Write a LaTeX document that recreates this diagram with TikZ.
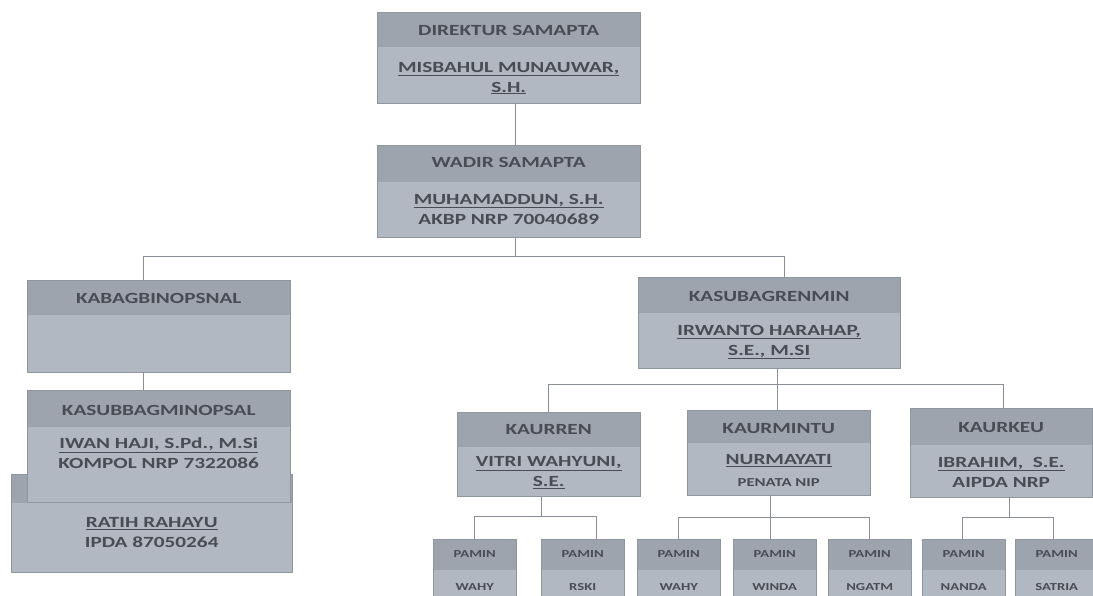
\documentclass[tikz,border=0pt]{standalone}
\usepackage{fontspec}
\setmainfont[FakeStretch=1.37]{Carlito}
\usepackage{xcolor}
\usepackage{tikz}
\usetikzlibrary{positioning, calc}
\definecolor{boxhead}{HTML}{9DA4AE}
\definecolor{boxbody}{HTML}{B2B8C1}
\definecolor{boxedge}{HTML}{8F969F}
\definecolor{inkgray}{HTML}{474C55}
\definecolor{linkgray}{HTML}{8A8F96}

\tikzset{
  orgbox/.style={draw=boxedge, fill=boxbody, inner sep=0pt, anchor=north west,
    path picture={\fill[boxhead] (path picture bounding box.north west)
      rectangle ([yshift=-#1]path picture bounding box.north east);}},
  titletext/.style={font=\bfseries\fontsize{15.5}{20}\selectfont, text=inkgray, inner sep=0pt},
  nametext/.style={titletext, align=center},
  smalltext/.style={font=\bfseries\fontsize{10.7}{13}\selectfont, text=inkgray, inner sep=0pt},
  link/.style={draw=linkgray, line width=1.3pt}
}

\begin{document}
\begin{tikzpicture}[x=1pt, y=-1pt]
\clip (0,0) rectangle (1093,595);

% top of the chart
\node[orgbox=35, minimum width=263, minimum height=91] (dir) at (377,12) {};
\node[titletext] (dirT) at ([yshift=-18]dir.north) {DIREKTUR SAMAPTA};
\node[nametext] (dirN) at ([yshift=-66]dir.north) {\underline{MISBAHUL MUNAUWAR,}\\\underline{S.H.}};

\node[orgbox=37, minimum width=263, minimum height=92] (wadir) at (377,145) {};
\node[titletext] (wadirT) at ([yshift=-17.5]wadir.north) {WADIR SAMAPTA};
\node[nametext] (wadirN) at ([yshift=-64]wadir.north) {\underline{MUHAMADDUN, S.H.}\\AKBP NRP 70040689};

% left branch
\node[orgbox=35, minimum width=263, minimum height=92] (kabag) at (27,280) {};
\node[titletext] (kabagT) at ([yshift=-18]kabag.north) {KABAGBINOPSNAL};

\node[orgbox=29, minimum width=281, minimum height=98] (ratih) at (11,474) {};
\node[nametext] (ratihN) at ([yshift=-59]ratih.north) {\underline{RATIH RAHAYU}\\IPDA 87050264};

\node[orgbox=37, minimum width=263, minimum height=112] (kasubbag) at (27,390) {};
\node[titletext] (kasubbagT) at ([yshift=-20]kasubbag.north) {KASUBBAGMINOPSAL};
\node[nametext] (kasubbagN) at ([yshift=-63]kasubbag.north) {\underline{IWAN HAJI, S.Pd., M.Si}\\KOMPOL NRP 7322086};

% right branch
\node[orgbox=36, minimum width=262, minimum height=91] (renmin) at (638,277) {};
\node[titletext] (renminT) at ([yshift=-19]renmin.north) {KASUBAGRENMIN};
\node[nametext] (renminN) at ([yshift=-65]renmin.north) {\underline{IRWANTO HARAHAP,}\\\underline{S.E., M.SI}};

\node[orgbox=35, minimum width=183, minimum height=84] (kaurren) at (457,412) {};
\node[titletext] (kaurrenT) at ([yshift=-18]kaurren.north) {KAURREN};
\node[nametext] (kaurrenN) at ([yshift=-60.5]kaurren.north) {\underline{VITRI WAHYUNI,}\\\underline{S.E.}};

\node[orgbox=33, minimum width=183, minimum height=85] (kaurmintu) at (687,410) {};
\node[titletext] (kaurmintuT) at ([yshift=-19]kaurmintu.north) {KAURMINTU};
\node[nametext] (kaurmintuN) at ([yshift=-51]kaurmintu.north) {\underline{NURMAYATI}};
\node[smalltext, font=\bfseries\fontsize{12.2}{14}\selectfont] (kaurmintuP) at ([yshift=-72.5]kaurmintu.north) {PENATA NIP};

\node[orgbox=37, minimum width=182, minimum height=89] (kaurkeu) at (910,408) {};
\node[titletext] (kaurkeuT) at ([yshift=-19.5]kaurkeu.north) {KAURKEU};
\node[nametext] (kaurkeuN) at ([yshift=-64]kaurkeu.north) {\underline{IBRAHIM,\ \ S.E.}\\AIPDA NRP};

% pamin row
\foreach \n/\x/\who in {
    pa1/433/WAHY, pa2/541/RSKI,
    pb1/637/WAHY, pb2/733/WINDA, pb3/828/NGATM,
    pc1/922/NANDA, pc2/1015/SATRIA} {
  \node[orgbox=31, minimum width=83, minimum height=60] (\n) at (\x,539) {};
  \node[smalltext] (\n T) at ([yshift=-15.5]\n.north) {PAMIN};
  \node[smalltext] (\n N) at ([yshift=-48]\n.north) {\who};
}

% connectors
\draw[link] ([xshift=6.5]dir.south) -- ([xshift=6.5]wadir.north);
\draw[link] ([xshift=6.5]wadir.south) -- ++(0,19) -| ([xshift=-15.5]kabag.north);
\draw[link] ([xshift=6.5]wadir.south) -- ++(0,19) -| ([xshift=15]renmin.north);
\draw[link] ([xshift=-15.5]kabag.south) -- ([xshift=-15.5]kasubbag.north);

\draw[link] ([xshift=8]renmin.south) -- ++(0,16) -| (kaurren.north);
\draw[link] ([xshift=8]renmin.south) -- ([xshift=-1.5]kaurmintu.north);
\draw[link] ([xshift=8]renmin.south) -- ++(0,16) -| ([xshift=2]kaurkeu.north);

\draw[link] ([xshift=-7.5]kaurren.south) -- ++(0,20) -| (pa1.north);
\draw[link] ([xshift=-7.5]kaurren.south) -- ++(0,20) -| ([xshift=13.5]pa2.north);
\draw[link] ([xshift=-8.5]kaurmintu.south) -- ++(0,22) -| (pb1.north);
\draw[link] ([xshift=-8.5]kaurmintu.south) -- ([xshift=-4.5]pb2.north);
\draw[link] ([xshift=-8.5]kaurmintu.south) -- ++(0,22) -| (pb3.north);
\draw[link] ([xshift=8]kaurkeu.south) -- ++(0,20) -| ([xshift=-1.5]pc1.north);
\draw[link] ([xshift=8]kaurkeu.south) -- ++(0,20) -| ([xshift=-3.5]pc2.north);

\end{tikzpicture}
\end{document}
